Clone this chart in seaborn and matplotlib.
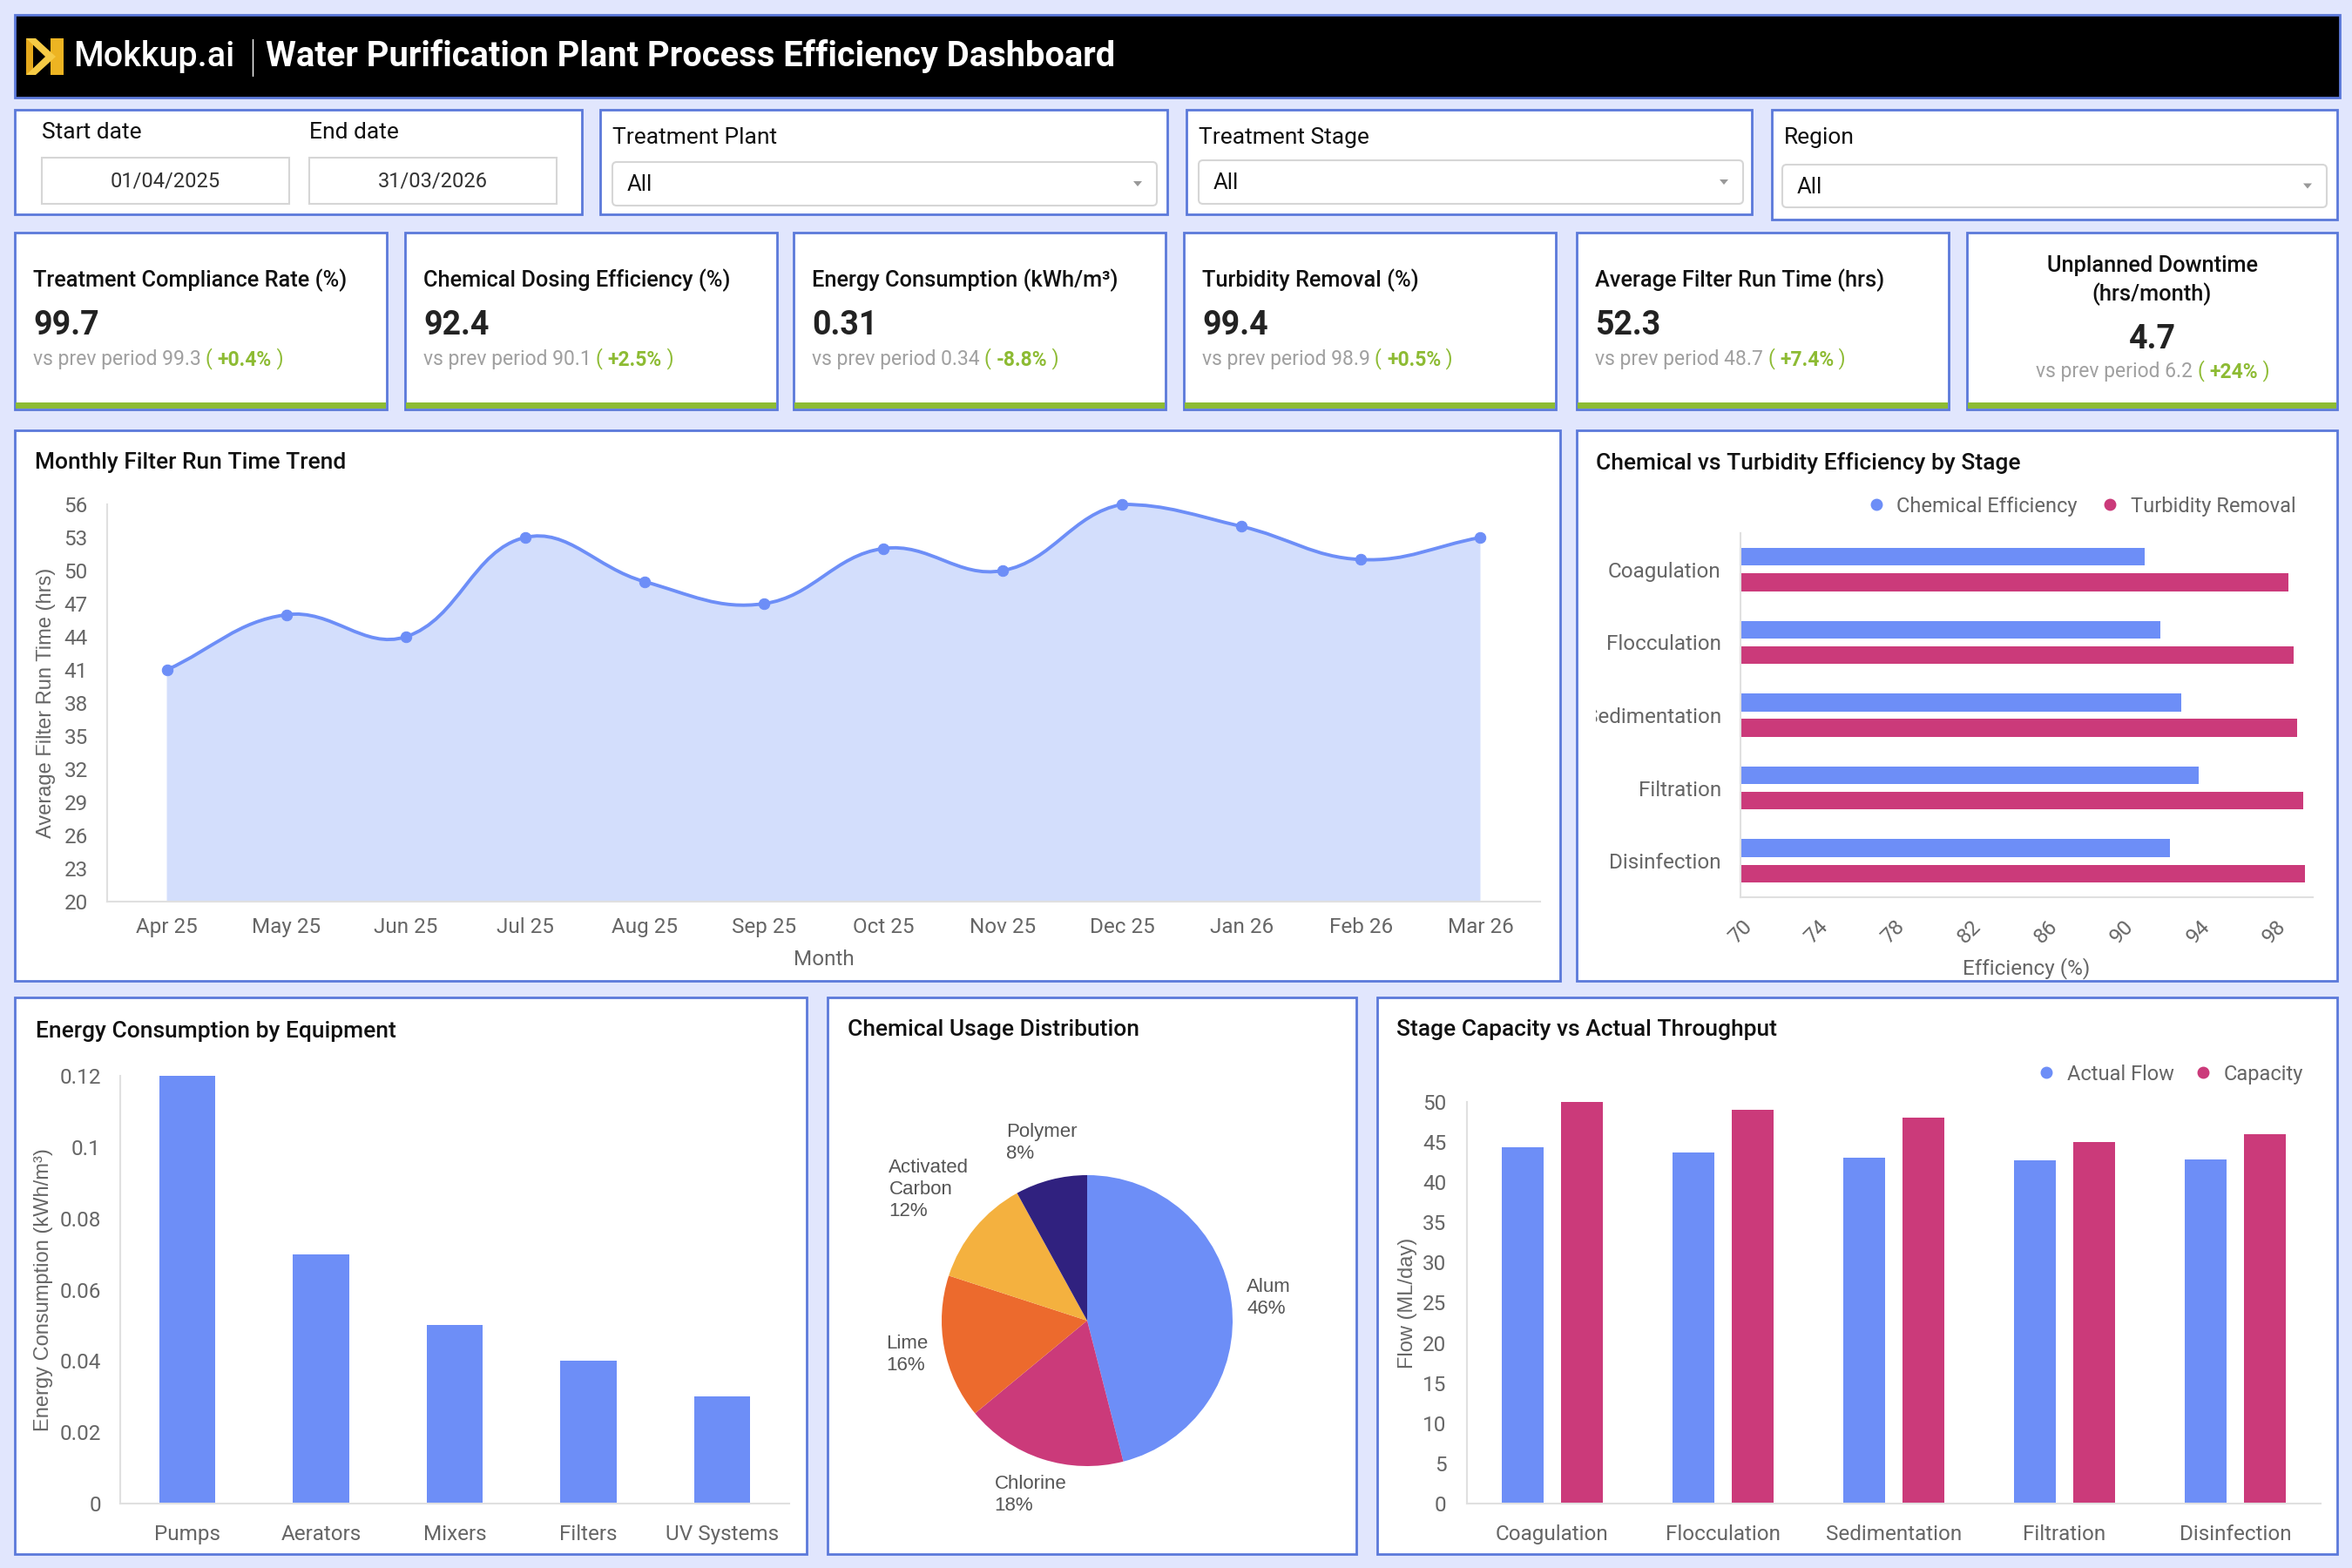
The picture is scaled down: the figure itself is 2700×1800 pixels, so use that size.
import numpy as np
import pandas as pd
import matplotlib
matplotlib.use('Agg')
import matplotlib.pyplot as plt
import seaborn as sns
from matplotlib.patches import Rectangle, FancyBboxPatch, Polygon, PathPatch
from matplotlib.path import Path
from matplotlib.lines import Line2D
from matplotlib.transforms import Bbox, TransformedBbox

# ---- data ----
months = ['Apr 25', 'May 25', 'Jun 25', 'Jul 25', 'Aug 25', 'Sep 25',
          'Oct 25', 'Nov 25', 'Dec 25', 'Jan 26', 'Feb 26', 'Mar 26']
filter_run_hrs = [41, 46, 44, 53, 49, 47, 52, 50, 56, 54, 51, 53]

stages = ['Coagulation', 'Flocculation', 'Sedimentation', 'Filtration', 'Disinfection']
chem_eff = [91.2, 92.0, 93.1, 94.0, 92.5]
turb_removal = [98.7, 99.0, 99.2, 99.5, 99.6]

equipment = ['Pumps', 'Aerators', 'Mixers', 'Filters', 'UV Systems']
energy_kwh = [0.12, 0.07, 0.05, 0.04, 0.03]

chemicals = ['Alum', 'Chlorine', 'Lime', 'Activated\nCarbon', 'Polymer']
chem_share = [46, 18, 16, 12, 8]

actual_flow = [44.4, 43.7, 43.1, 42.7, 42.8]
capacity = [50, 49, 48, 45, 46]

kpi_titles = ['Treatment Compliance Rate (%)', 'Chemical Dosing Efficiency (%)',
              'Energy Consumption (kWh/m³)', 'Turbidity Removal (%)',
              'Average Filter Run Time (hrs)', 'Unplanned Downtime\n(hrs/month)']
kpi_values = ['99.7', '92.4', '0.31', '99.4', '52.3', '4.7']
kpi_prev = ['99.3', '90.1', '0.34', '98.9', '48.7', '6.2']
kpi_change = ['+0.4%', '+2.5%', '-8.8%', '+0.5%', '+7.4%', '+24%']

# ---- style ----
BG = '#E1E6FD'
BORDER = '#5B79DA'
BLUE = '#6D8EF7'
MAGENTA = '#CB3A7A'
ORANGE = '#EC6A2D'
YELLOW = '#F4B13F'
NAVY = '#30217F'
FILL = '#D3DEFC'
GREEN = '#8DBB33'
TICK = '#666666'
ARIAL = ['Liberation Sans', 'DejaVu Sans']
TICK_SIZE = 17.5

sns.set_theme(style='white')
plt.rcParams['font.family'] = ['Roboto', 'DejaVu Sans']

W, H = 2700, 1800
fig = plt.figure(figsize=(27, 18), dpi=100, facecolor=BG)

ax_bg = fig.add_axes([0, 0, 1, 1])
ax_bg.set_xlim(0, W)
ax_bg.set_ylim(H, 0)
ax_bg.axis('off')


def px_axes(x0, y0, x1, y1):
    return fig.add_axes([x0 / W, 1 - y1 / H, (x1 - x0) / W, (y1 - y0) / H])


def panel(x0, y0, x1, y1, fc='white'):
    ax_bg.add_patch(Rectangle((x0, y0), x1 - x0, y1 - y0, facecolor=fc,
                              edgecolor=BORDER, lw=2))


def style_axes(ax):
    ax.set_facecolor('none')
    for s in ['top', 'right']:
        ax.spines[s].set_visible(False)
    for s in ['left', 'bottom']:
        ax.spines[s].set_color('#E0E0E0')
        ax.spines[s].set_linewidth(1.5)
    ax.tick_params(length=0, labelsize=TICK_SIZE, labelcolor=TICK)
    ax.grid(False)


def chain(x, y, parts, size=16.5):
    prev = None
    for s, c, w in parts:
        if prev is None:
            prev = ax_bg.text(x, y, s, color=c, fontweight=w, fontsize=size,
                              va='center', ha='left')
        else:
            prev = ax_bg.annotate(s, xy=(1, 0), xycoords=prev, va='bottom',
                                  ha='left', color=c, fontweight=w, fontsize=size)


def smooth_path(ax, xs, ys, t=0.4):
    # cubic bezier through the data points, control points kept inside the plot area
    pts = ax.transData.transform(np.column_stack([xs, ys]))
    box = ax.get_window_extent()
    n = len(pts)
    cps = []
    for i in range(n):
        p0, p1, p2 = pts[max(i - 1, 0)], pts[i], pts[min(i + 1, n - 1)]
        d01 = np.hypot(*(p1 - p0))
        d12 = np.hypot(*(p2 - p1))
        s = d01 + d12
        fa = t * d01 / s if s else 0
        fb = t * d12 / s if s else 0
        c_prev = p1 - fa * (p2 - p0)
        c_next = p1 + fb * (p2 - p0)
        for c in (c_prev, c_next):
            c[0] = np.clip(c[0], box.x0, box.x1)
            c[1] = np.clip(c[1], box.y0, box.y1)
        cps.append((c_prev, c_next))
    verts = [pts[0]]
    codes = [Path.MOVETO]
    for i in range(n - 1):
        verts += [cps[i][1], cps[i + 1][0], pts[i + 1]]
        codes += [Path.CURVE4] * 3
    verts = ax.transData.inverted().transform(np.array(verts))
    return list(map(tuple, verts)), codes


# ---- header ----
ax_bg.add_patch(Rectangle((17, 17), 2669, 95, facecolor='black', edgecolor=BORDER, lw=2))
ax_bg.add_patch(Rectangle((30, 44), 8, 42, facecolor='#E5A91C', edgecolor='none'))
ax_bg.add_patch(Rectangle((58, 44), 15, 42, facecolor='#EDB422', edgecolor='none'))
ax_bg.add_patch(Polygon([(30, 44), (41, 44), (64, 65), (41, 86), (30, 86), (52, 65)],
                        closed=True, facecolor='#F6CB45', edgecolor='none'))
ax_bg.text(84, 65, 'Mokkup.ai', color='white', fontsize=28.5, fontweight='medium',
           va='center', ha='left')
ax_bg.plot([290, 290], [45, 87], color='white', lw=1)
ax_bg.text(305, 65, 'Water Purification Plant Process Efficiency Dashboard',
           color='white', fontsize=28.7, fontweight='bold', va='center', ha='left')

# ---- filters ----
panel(17, 126, 668, 246)
ax_bg.text(48, 152, 'Start date', fontsize=19, va='center', color='#111')
ax_bg.text(355, 152, 'End date', fontsize=19, va='center', color='#111')
for (bx0, bx1), d in zip([(48, 332), (355, 639)], ['01/04/2025', '31/03/2026']):
    ax_bg.add_patch(Rectangle((bx0, 181), bx1 - bx0, 53, facecolor='white',
                              edgecolor='#D6D6D6', lw=1.5))
    ax_bg.text((bx0 + bx1) / 2, 208, d, fontsize=17, ha='center', va='center', color='#333')

filters = [('Treatment Plant', 689, 1340, 126, 246, 703, 186, 1328, 236),
           ('Treatment Stage', 1362, 2011, 126, 246, 1376, 184, 2001, 234),
           ('Region', 2034, 2683, 126, 252, 2046, 189, 2671, 238)]
for name, x0, x1, y0, y1, dx0, dy0, dx1, dy1 in filters:
    panel(x0, y0, x1, y1)
    ax_bg.text(x0 + 14, 158, name, fontsize=19, va='center', color='#111')
    ax_bg.add_patch(FancyBboxPatch((dx0, dy0), dx1 - dx0, dy1 - dy0,
                                   boxstyle='round,pad=0,rounding_size=5',
                                   facecolor='white', edgecolor='#D6D6D6', lw=1.5))
    ax_bg.text(dx0 + 17, (dy0 + dy1) / 2 + 1, 'All', fontsize=18.5, va='center', color='#111')
    tx, ty = dx1 - 22, (dy0 + dy1) / 2
    ax_bg.add_patch(Polygon([(tx - 5, ty - 3), (tx + 5, ty - 3), (tx, ty + 3)],
                            closed=True, facecolor='#999999', edgecolor='none'))

# ---- KPI cards ----
card_x = [(17, 444), (465, 892), (911, 1338), (1359, 1786), (1810, 2237), (2258, 2683)]
for i, (x0, x1) in enumerate(card_x):
    y0, y1 = 267, 470
    panel(x0, y0, x1, y1)
    ax_bg.add_patch(Rectangle((x0 + 1, y1 - 8), x1 - x0 - 2, 7, facecolor=GREEN,
                              edgecolor='none'))
    sub = [(f'vs prev period {kpi_prev[i]} ', '#A0A0A0', 'normal'),
           ('( ', GREEN, 'normal'), (kpi_change[i], GREEN, 'bold'), (' )', GREEN, 'normal')]
    if i < 5:
        ax_bg.text(x0 + 21, 322, kpi_titles[i], fontsize=18.3, fontweight='medium',
                   va='center', color='#111')
        ax_bg.text(x0 + 21, 373, kpi_values[i], fontsize=27, fontweight='bold',
                   va='center', color='#222')
        chain(x0 + 21, 413, sub)
    else:
        cx = (x0 + x1) / 2
        ax_bg.text(cx, 322, kpi_titles[i], fontsize=18.3, fontweight='medium',
                   va='center', ha='center', color='#111', linespacing=1.35)
        ax_bg.text(cx, 389, kpi_values[i], fontsize=27, fontweight='bold',
                   va='center', ha='center', color='#222')
        chain(2337, 427, sub)

# ---- chart panels ----
panel(17, 494, 1791, 1126)
panel(1810, 494, 2683, 1126)
panel(17, 1145, 926, 1784)
panel(950, 1145, 1557, 1784)
panel(1581, 1145, 2683, 1784)
for tx, ty, title in [(40, 531, 'Monthly Filter Run Time Trend'),
                      (1832, 531, 'Chemical vs Turbidity Efficiency by Stage'),
                      (41, 1184, 'Energy Consumption by Equipment'),
                      (973, 1182, 'Chemical Usage Distribution'),
                      (1603, 1182, 'Stage Capacity vs Actual Throughput')]:
    ax_bg.text(tx, ty, title, fontsize=19, fontweight='medium', va='center', color='#111')

# ---- monthly filter run time (smoothed area line) ----
ax1 = px_axes(123, 579, 1768, 1035)
style_axes(ax1)
x_idx = np.arange(len(months))
sns.scatterplot(x=x_idx, y=filter_run_hrs, color=BLUE, s=80, edgecolor=BLUE,
                zorder=4, ax=ax1, legend=False, clip_on=False)
ax1.set_xlim(-0.5, 11.5)
ax1.set_ylim(20, 56)
verts, codes = smooth_path(ax1, x_idx, filter_run_hrs)
fill_verts = verts + [(x_idx[-1], 20), (x_idx[0], 20), (x_idx[0], 20)]
fill_codes = codes + [Path.LINETO, Path.LINETO, Path.CLOSEPOLY]
ax1.add_patch(PathPatch(Path(fill_verts, fill_codes), facecolor=FILL, edgecolor='none',
                        zorder=1, clip_on=False))
ax1.add_patch(PathPatch(Path(verts, codes), facecolor='none', edgecolor=BLUE, lw=2.8,
                        zorder=3, clip_on=False))
ax1.set_xticks(x_idx, labels=months)
ax1.set_yticks(range(20, 57, 3))
ax1.tick_params(axis='x', pad=13)
ax1.tick_params(axis='y', pad=16)
ax1.set_xlabel('Month', fontsize=17.5, color=TICK)
ax1.set_ylabel('Average Filter Run Time (hrs)', fontsize=17, color=TICK, family=ARIAL)
ax1.xaxis.set_label_coords(0.5, -0.12)
ax1.yaxis.set_label_coords(-0.036, 0.5)

# ---- chemical vs turbidity (horizontal grouped bars) ----
eff_df = pd.DataFrame({
    'stage': stages * 2,
    'series': ['Chemical Efficiency'] * 5 + ['Turbidity Removal'] * 5,
    'value': chem_eff + turb_removal,
})
ax2 = px_axes(1998, 612, 2655, 1030)
sns.barplot(data=eff_df, x='value', y='stage', hue='series', orient='h',
            palette=[BLUE, MAGENTA], width=0.7, gap=0.3, saturation=1,
            linewidth=0, legend=False, ax=ax2)
style_axes(ax2)
ax2.set_xlim(70, 100)
ax2.set_xticks(range(70, 99, 4))
ax2.set_yticks(range(len(stages)), labels=stages)
ax2.tick_params(axis='x', labelrotation=45, pad=16)
ax2.tick_params(axis='y', pad=16)
ax2.set_xlabel('Efficiency (%)', fontsize=17.5, color=TICK)
ax2.set_ylabel('')
ax2.xaxis.set_label_coords(0.5, -0.165)
h2 = [Line2D([], [], marker='o', ls='', color=c, markersize=9) for c in (BLUE, MAGENTA)]
ax2.legend(h2, ['Chemical Efficiency', 'Turbidity Removal'], loc='center right',
           bbox_to_anchor=(0.985, 1.074), ncol=2, frameon=False, fontsize=17,
           handletextpad=0.0, columnspacing=0.6, labelcolor=TICK, borderaxespad=0)

# ---- energy by equipment ----
ax3 = px_axes(138, 1235, 906, 1726)
sns.barplot(x=equipment, y=energy_kwh, color=BLUE, width=0.42, saturation=1,
            linewidth=0, ax=ax3)
style_axes(ax3)
ax3.set_ylim(0, 0.12)
yt = [0, 0.02, 0.04, 0.06, 0.08, 0.1, 0.12]
ax3.set_yticks(yt, labels=[f'{v:g}' for v in yt])
ax3.tick_params(axis='x', pad=17)
ax3.tick_params(axis='y', pad=16)
ax3.set_ylabel('Energy Consumption (kWh/m³)', fontsize=17, color=TICK, family=ARIAL)
ax3.yaxis.set_label_coords(-0.1, 0.5)

# ---- chemical usage pie ----
ax4 = px_axes(1248 - 167, 1516 - 167, 1248 + 167, 1516 + 167)
labels4 = [f'{c}\n{p}%' for c, p in zip(chemicals, chem_share)]
wedges, texts = ax4.pie(chem_share, labels=labels4,
                        colors=[BLUE, MAGENTA, ORANGE, YELLOW, NAVY],
                        startangle=90, counterclock=False, labeldistance=1.26,
                        wedgeprops=dict(linewidth=0),
                        textprops=dict(fontsize=16, color='#555555', family=ARIAL))
for t in texts:
    t.set_ha('center')
    t.set_va('center')
    t.set_multialignment('left')
    t.set_linespacing(1.25)
# the three-line label sits a little further out
tx, ty = texts[3].get_position()
texts[3].set_position((tx * 1.12, ty * 1.12))
ax4.set_xlim(-1, 1)
ax4.set_ylim(-1, 1)

# ---- stage capacity vs throughput ----
cap_df = pd.DataFrame({
    'stage': stages * 2,
    'series': ['Actual Flow'] * 5 + ['Capacity'] * 5,
    'value': actual_flow + capacity,
})
ax5 = px_axes(1684, 1265, 2664, 1726)
sns.barplot(data=cap_df, x='stage', y='value', hue='series',
            palette=[BLUE, MAGENTA], width=0.7, gap=0.3, saturation=1,
            linewidth=0, legend=False, ax=ax5)
style_axes(ax5)
ax5.set_ylim(0, 50)
ax5.set_yticks(range(0, 51, 5))
ax5.tick_params(axis='x', pad=17)
ax5.tick_params(axis='y', pad=17)
ax5.set_xlabel('')
ax5.set_ylabel('Flow (ML/day)', fontsize=17, color=TICK, family=ARIAL)
ax5.yaxis.set_label_coords(-0.058, 0.5)
h5 = [Line2D([], [], marker='o', ls='', color=c, markersize=9) for c in (BLUE, MAGENTA)]
ax5.legend(h5, ['Actual Flow', 'Capacity'], loc='center right',
           bbox_to_anchor=(0.989, 1.069), ncol=2, frameon=False, fontsize=17,
           handletextpad=0.0, columnspacing=0.4, labelcolor=TICK, borderaxespad=0)

# stage labels of the efficiency chart get cut at the panel's inner padding
fig.canvas.draw()
clip = TransformedBbox(Bbox.from_extents(1832 / W, 0, 1, 1), fig.transFigure)
for lbl in ax2.get_yticklabels():
    lbl.set_clip_on(True)
    lbl.set_clip_box(clip)

fig.savefig('out.png', dpi=100, facecolor=BG)
